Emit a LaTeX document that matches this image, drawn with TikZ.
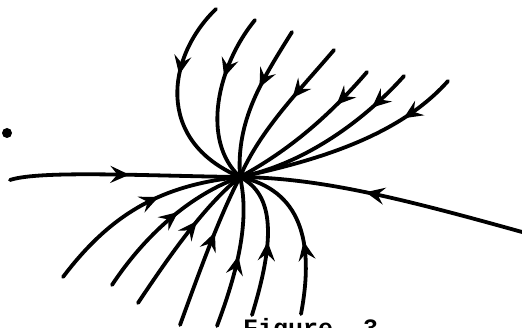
\documentclass[tikz,border=0pt]{standalone}
\usepackage{fontspec}
\usetikzlibrary{decorations.markings,arrows.meta}
\newfontfamily\capfont{Liberation Mono}

\begin{document}
\begin{tikzpicture}[x=1pt,y=-1pt,
  traj/.style={line width=3.8pt, line cap=round},
  flow/.style={decoration={markings,
    mark=at position #1 with {\arrow{Stealth[length=19pt,width=17pt,inset=7pt]}}},
    postaction={decorate}}]
\useasboundingbox (0,0) rectangle (522,328);

\coordinate (O) at (240,177);

\coordinate (t1) at (216,9);
\coordinate (t2) at (255,20);
\coordinate (t3) at (292,32);
\coordinate (t4) at (334,50);
\coordinate (t5) at (367,72);
\coordinate (t6) at (404,76);
\coordinate (t7) at (448,81);

\coordinate (l) at (10,180);
\coordinate (r) at (522,232);

\coordinate (b1) at (63,277);
\coordinate (b2) at (112,285);
\coordinate (b3) at (138,303);
\coordinate (b4) at (180,325);
\coordinate (b5) at (217,326);
\coordinate (b6) at (252,315);
\coordinate (b7) at (301,314);

\draw[traj, flow=0.37] (t1) .. controls (168,55) and (153,140) .. (O);
\draw[traj, flow=0.38] (t2) .. controls (218,65) and (200,140) .. (O);
\draw[traj, flow=0.41] (t3) .. controls (262,80) and (236,120) .. (O);
\draw[traj, flow=0.40] (t4) .. controls (300,90) and (260,130) .. (O);
\draw[traj, flow=0.27] (t5) .. controls (330,115) and (290,150) .. (O);
\draw[traj, flow=0.23] (t6) .. controls (360,125) and (300,165) .. (O);
\draw[traj, flow=0.25] (t7) .. controls (400,135) and (320,160) .. (O);

\draw[traj, flow=0.52] (l) .. controls (40,170) and (150,176) .. (O);
\draw[traj, flow=0.56] (r) .. controls (400,198) and (320,178) .. (O);

\draw[traj, flow=0.60] (b1) .. controls (110,215) and (160,185) .. (O);
\draw[traj, flow=0.58] (b2) .. controls (145,235) and (190,195) .. (O);
\draw[traj, flow=0.62] (b3) .. controls (170,255) and (205,205) .. (O);
\draw[traj, flow=0.62] (b4) .. controls (200,270) and (220,215) .. (O);
\draw[traj, flow=0.48] (b5) .. controls (238,270) and (250,220) .. (O);
\draw[traj, flow=0.50] (b6) .. controls (275,240) and (275,195) .. (O);
\draw[traj, flow=0.43] (b7) .. controls (315,240) and (300,190) .. (O);

\fill (7,133) circle (5);

\node[anchor=base west, inner sep=0pt, font=\capfont\bfseries\fontsize{25}{30}\selectfont] (cap) at (243,337) {Figure\ \ 3};
\end{tikzpicture}
\end{document}
